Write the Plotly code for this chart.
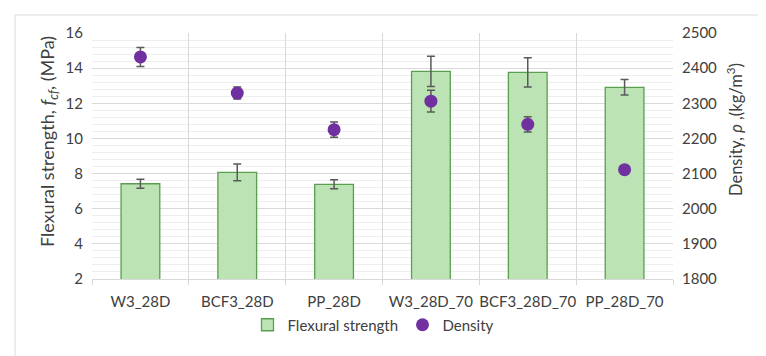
import plotly.graph_objects as go

categories = ["W3_28D", "BCF3_28D", "PP_28D", "W3_28D_70", "BCF3_28D_70", "PP_28D_70"]
flexural = [7.42, 8.07, 7.39, 13.82, 13.76, 12.91]
flexural_err = [0.25, 0.48, 0.26, 0.86, 0.83, 0.44]
density = [2432, 2329, 2225, 2306, 2240, 2111]
density_err = [27, 17, 22, 31, 22, 8]
left_ticks = [2, 4, 6, 8, 10, 12, 14, 16]
right_ticks = [1800, 1900, 2000, 2100, 2200, 2300, 2400, 2500]

FONT = "Lato"
TXT = "#404040"

fig = go.Figure()
fig.add_trace(go.Bar(
    x=categories, y=flexural, name="Flexural strength", width=0.4,
    marker=dict(color="#bce3b4", line=dict(color="#5a9e50", width=1.3)),
    error_y=dict(type="data", array=flexural_err, color="#595959", thickness=1.5, width=4),
    yaxis="y",
))
fig.add_trace(go.Scatter(
    x=categories, y=density, name="Density", mode="markers",
    marker=dict(color="#7030a0", size=13, symbol="circle"),
    error_y=dict(type="data", array=density_err, color="#595959", thickness=1.5, width=4),
    yaxis="y2",
))

L, R, T, B = 84, 101, 25, 85
pw, ph = 766 - L - R, 356 - T - B

def px(xp):
    return (xp - L) / pw

def py(yp):
    return (271 - yp) / ph

fig.update_layout(
    width=766, height=356,
    margin=dict(l=L, r=R, t=T, b=B),
    paper_bgcolor="white", plot_bgcolor="white",
    font=dict(family=FONT, size=15, color=TXT),
    showlegend=True,
    legend=dict(orientation="h", x=0.5 + 20 / pw, xanchor="center",
                y=py(317), yanchor="middle",
                font=dict(size=15, color=TXT), itemwidth=30,
                entrywidth=110, entrywidthmode="pixels"),
    bargap=0.6,
    xaxis=dict(
        type="category", tickson="boundaries", showgrid=True, gridcolor="#d9d9d9",
        gridwidth=1, ticks="outside", ticklen=5, tickcolor="#d9d9d9",
        showline=True, linecolor="#d9d9d9", tickfont=dict(size=15, color=TXT),
        tickangle=0, ticklabelstandoff=9,
        range=[-0.5, 5.5],
    ),
    yaxis=dict(
        range=[2, 16], tickvals=left_ticks, showgrid=True, gridcolor="#d9d9d9",
        minor=dict(dtick=0.4, showgrid=True, gridcolor="#eeeeee", gridwidth=1),
        zeroline=False, showline=False, tickfont=dict(size=15, color=TXT),
        ticks="", ticklabelstandoff=8,
    ),
    yaxis2=dict(
        range=[1800, 2500], tickvals=right_ticks, overlaying="y", side="right",
        showgrid=False, zeroline=False, showline=False,
        tickfont=dict(size=15, color=TXT), ticklabelstandoff=8,
    ),
    annotations=[
        dict(text="Flexural strength, <i>f<sub>cf</sub></i>, (MPa)", textangle=-90,
             xref="paper", yref="paper", x=px(40), y=py(134), xanchor="center",
             yanchor="middle", showarrow=False, font=dict(size=18, color=TXT)),
        dict(text="Density, <i>ρ</i> ,(kg/m<sup>3</sup>)", textangle=-90,
             xref="paper", yref="paper", x=px(727), y=py(122), xanchor="center",
             yanchor="middle", showarrow=False, font=dict(size=16.5, color=TXT)),
    ],
    shapes=[dict(type="rect", xref="paper", yref="paper",
                 x0=px(7), x1=px(760), y0=py(350), y1=py(7),
                 line=dict(color="#d9d9d9", width=1), fillcolor="rgba(0,0,0,0)",
                 layer="below")],
)

fig.write_html("out.html")
